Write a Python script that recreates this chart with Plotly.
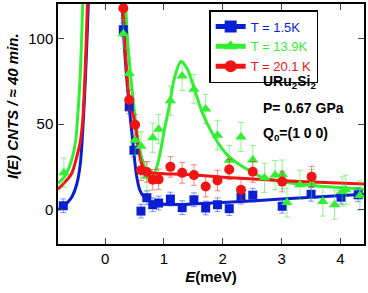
import plotly.graph_objects as go

# ---------------- data ----------------
blue_E = [-0.71, 0.31, 0.41, 0.49, 0.61, 0.71, 0.81, 0.91, 1.11, 1.31, 1.51, 1.71, 1.91, 2.11, 2.31, 2.51, 3.01, 3.50, 4.01, 4.30]
blue_I = [2.3, 105, 60, 34.7, -0.8, 7.0, 2.9, 3.9, 6.2, 1.2, 5.8, 1.0, 2.9, 0.6, 7.3, 8.5, 2.0, 9.0, 7.3, 8.7]
blue_err = 4.0

green_E = [-0.70, 0.31, 0.41, 0.51, 0.61, 0.71, 0.81, 0.91, 1.11, 1.31, 1.51, 1.71, 1.91, 2.11, 2.31, 2.51,
           2.71, 2.89, 3.01, 3.09, 3.31, 3.51, 3.70, 3.90, 4.03, 4.09, 4.33]
green_I = [21.6, 102.7, 79.5, 40.5, 37.0, 19.5, 42.0, 47.0, 63.6, 78.0, 70.3, 58.8, 43.4, 28.9, 42.4, 29.0,
           18.6, 20.2, 20.5, 4.2, 14.5, 15.0, 4.8, 2.9, 10.6, 11.6, 8.3]
green_err = 8.5

red_E = [0.31, 0.41, 0.51, 0.61, 0.71, 0.81, 0.91, 1.11, 1.31, 1.51, 1.71, 1.91, 2.11, 2.31, 2.51, 3.01, 3.51]
red_I = [117.5, 64, 49.5, 23.0, 22.0, 17.5, 17.7, 25.0, 21.5, 20.2, 13.5, 17.0, 23.5, 11.6, 22.1, 16.4, 19.3]
red_err = 6.0

# fitted curves
blue_fit_E = [-0.80, -0.71, -0.63, -0.56, -0.48, -0.42, -0.37, -0.33, -0.28, -0.25, None,
              0.26, 0.29, 0.31, 0.36, 0.41, 0.47, 0.53, 0.59, 0.66, 0.76, 0.93, 1.3, 2.0, 3.0, 4.4]
blue_fit_I = [0.0, 2.0, 4.5, 7.7, 15.0, 27.0, 52.0, 80.0, 125.0, 160.0, None,
              160.0, 125.0, 105.0, 80.0, 60.0, 40.0, 21.0, 11.5, 7.5, 5.0, 3.5, 3.0, 4.2, 6.2, 9.0]

red_fit_E = [-0.80, -0.70, -0.57, -0.48, -0.42, -0.38, -0.34, -0.30, -0.27, None,
             0.27, 0.30, 0.35, 0.41, 0.51, 0.56, 0.62, 0.70, 0.80, 1.0, 1.4, 2.3, 3.3, 4.4]
red_fit_I = [12.0, 15.4, 21.0, 31.0, 40.0, 52.0, 80.0, 120.0, 160.0, None,
             160.0, 120.0, 90.0, 65.0, 50.0, 37.0, 27.0, 22.5, 21.5, 21.0, 20.5, 18.3, 16.5, 15.0]

green_fit_E = [-0.80, -0.67, -0.56, -0.50, -0.47, -0.42, -0.38, -0.35, None,
               0.32, 0.35, 0.38, 0.43, 0.48, 0.53, 0.59, 0.67, 0.74, 0.84, 0.93, 1.01, 1.10, 1.18, 1.29,
               1.40, 1.52, 1.66, 1.80, 1.96, 2.11, 2.39, 2.70, 3.4, 4.4]
green_fit_I = [15.4, 20.2, 30.0, 40.0, 52.0, 80.0, 120.0, 160.0, None,
               160.0, 120.0, 100.0, 80.0, 63.0, 48.0, 34.7, 25.0, 19.5, 21.5, 32.0, 47.0, 62.0, 77.0, 86.5,
               82.0, 70.0, 56.0, 46.0, 37.0, 30.8, 24.0, 18.5, 14.5, 12.0]

labels = ["T = 1.5K", "T = 13.9K", "T = 20.1 K"]
x_ticks = [0, 1, 2, 3, 4]
y_ticks = [0, 50, 100]

# ---------------- styling ----------------
BLUE = "#0a1ed2"
GREEN = "#33ee33"
RED = "#f01414"
BLUE_L = "rgba(40,60,230,0.55)"
GREEN_L = "rgba(60,235,60,0.55)"
RED_L = "rgba(240,40,40,0.55)"
FONT = "Liberation Sans, Arial, Helvetica, sans-serif"

fig = go.Figure()

# fit curves
for E, I, c in [(blue_fit_E, blue_fit_I, BLUE), (green_fit_E, green_fit_I, GREEN), (red_fit_E, red_fit_I, RED)]:
    fig.add_trace(go.Scatter(x=E, y=I, mode="lines", line=dict(color=c, width=3, shape="spline", smoothing=0.8),
                             connectgaps=False, showlegend=False, hoverinfo="skip"))

# data points
data = [
    (blue_E, blue_I, blue_err, BLUE, BLUE_L, "square", 9),
    (green_E, green_I, green_err, GREEN, GREEN_L, "triangle-up", 10),
    (red_E, red_I, red_err, RED, RED_L, "circle", 10),
]
for E, I, err, c, cl, sym, sz in data:
    fig.add_trace(go.Scatter(
        x=E, y=I, mode="markers",
        marker=dict(symbol=sym, size=sz, color=c, line=dict(width=0)),
        error_y=dict(type="constant", value=err, color=cl, thickness=1, width=3),
        showlegend=False))

# legend entries
for lab, (E, I, err, c, cl, sym, sz) in zip(labels, data):
    fig.add_trace(go.Scatter(
        x=[None], y=[None], mode="lines+markers",
        name=f"<span style='color:{c}'>{lab}</span>",
        line=dict(color=c, width=3),
        marker=dict(symbol=sym, size=sz - 1, color=c)))

fig.update_layout(
    width=368, height=293,
    margin=dict(l=58, r=2, t=3, b=49),
    paper_bgcolor="white", plot_bgcolor="white",
    font=dict(family=FONT, size=15, color="black"),
    showlegend=True,
    legend=dict(x=0.494, y=0.975, xanchor="left", yanchor="top",
                bgcolor="white", bordercolor="black", borderwidth=1.5,
                font=dict(family=FONT, size=13), tracegroupgap=0,
                itemsizing="constant", itemwidth=30),
    xaxis=dict(range=[-0.8, 4.4], tickvals=x_ticks, ticks="inside", ticklen=6, tickwidth=1.3,
               showline=True, linecolor="black", linewidth=1.5, mirror="ticks",
               showgrid=False, zeroline=False,
               title=dict(text="<b><i>E</i>(meV)</b>", font=dict(size=15), standoff=6)),
    yaxis=dict(range=[-20, 120], tickvals=y_ticks, ticks="inside", ticklen=6, tickwidth=1.3,
               showline=True, linecolor="black", linewidth=1.5, mirror="ticks",
               showgrid=False, zeroline=False),
)

fig.add_annotation(text="<b><i>I(E) CNTS / ≈ 40 min.</i></b>", textangle=-90,
                   xref="paper", yref="paper", x=-0.15, y=0.575, xanchor="center", yanchor="middle",
                   showarrow=False, font=dict(size=15))

for txt, yy in [("<b>URu<sub>2</sub>Si<sub>2</sub></b>", 0.675),
                ("<b>P= 0.67 GPa</b>", 0.565),
                ("<b>Q<sub>0</sub>=(1 0 0)</b>", 0.46)]:
    fig.add_annotation(text=txt, xref="paper", yref="paper", x=0.665, y=yy,
                       xanchor="left", yanchor="middle", showarrow=False, font=dict(size=14))

fig.write_html("out.html", config={"displayModeBar": False},
               post_script="document.body.style.margin='0';document.body.style.padding='0';")
